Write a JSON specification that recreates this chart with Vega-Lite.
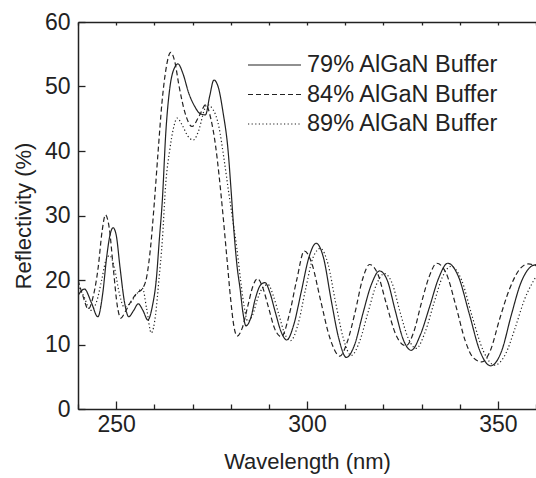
{
  "$schema": "https://vega.github.io/schema/vega-lite/v6.json",
  "width": 458,
  "height": 387,
  "autosize": {"type": "none"},
  "padding": {"left": 78, "top": 22, "right": 0, "bottom": 69},
  "background": "white",
  "config": {
    "view": {"stroke": null},
    "font": "Liberation Sans",
    "axis": {"labelFont": "Liberation Sans", "titleFont": "Liberation Sans", "labelColor": "#222", "titleColor": "#222", "domainColor": "#222", "tickColor": "#222", "domainWidth": 1.5, "tickWidth": 1.3, "grid": false, "titleFontWeight": "normal", "labelFontSize": 23, "titleFontSize": 22}
  },
  "datasets": {
    "curves": [
      {"s": "79% AlGaN Buffer", "x": 240, "y": 17.6},
      {"s": "79% AlGaN Buffer", "x": 241.7, "y": 18.6},
      {"s": "79% AlGaN Buffer", "x": 243.5, "y": 16.5},
      {"s": "79% AlGaN Buffer", "x": 245.2, "y": 14.3},
      {"s": "79% AlGaN Buffer", "x": 246.5, "y": 18},
      {"s": "79% AlGaN Buffer", "x": 247.5, "y": 23.5},
      {"s": "79% AlGaN Buffer", "x": 248.4, "y": 27},
      {"s": "79% AlGaN Buffer", "x": 249.2, "y": 28.1},
      {"s": "79% AlGaN Buffer", "x": 250, "y": 27},
      {"s": "79% AlGaN Buffer", "x": 251, "y": 22},
      {"s": "79% AlGaN Buffer", "x": 252.2, "y": 16.5},
      {"s": "79% AlGaN Buffer", "x": 253.3, "y": 14.3},
      {"s": "79% AlGaN Buffer", "x": 254.5, "y": 15.2},
      {"s": "79% AlGaN Buffer", "x": 255.8, "y": 16.3},
      {"s": "79% AlGaN Buffer", "x": 257, "y": 15.3},
      {"s": "79% AlGaN Buffer", "x": 258.3, "y": 13.8},
      {"s": "79% AlGaN Buffer", "x": 259.5, "y": 16},
      {"s": "79% AlGaN Buffer", "x": 260.5, "y": 20},
      {"s": "79% AlGaN Buffer", "x": 261.3, "y": 26.2},
      {"s": "79% AlGaN Buffer", "x": 262.1, "y": 32.4},
      {"s": "79% AlGaN Buffer", "x": 263, "y": 42.8},
      {"s": "79% AlGaN Buffer", "x": 264, "y": 49.5},
      {"s": "79% AlGaN Buffer", "x": 265, "y": 52.5},
      {"s": "79% AlGaN Buffer", "x": 266.2, "y": 53.5},
      {"s": "79% AlGaN Buffer", "x": 267.5, "y": 52},
      {"s": "79% AlGaN Buffer", "x": 269, "y": 49},
      {"s": "79% AlGaN Buffer", "x": 270.5, "y": 47},
      {"s": "79% AlGaN Buffer", "x": 272, "y": 45.8},
      {"s": "79% AlGaN Buffer", "x": 273.4, "y": 45.6},
      {"s": "79% AlGaN Buffer", "x": 274.5, "y": 48.5},
      {"s": "79% AlGaN Buffer", "x": 275.6, "y": 51},
      {"s": "79% AlGaN Buffer", "x": 276.7, "y": 50},
      {"s": "79% AlGaN Buffer", "x": 278, "y": 46},
      {"s": "79% AlGaN Buffer", "x": 279.3, "y": 40.2},
      {"s": "79% AlGaN Buffer", "x": 280.1, "y": 34},
      {"s": "79% AlGaN Buffer", "x": 280.8, "y": 28},
      {"s": "79% AlGaN Buffer", "x": 281.7, "y": 22},
      {"s": "79% AlGaN Buffer", "x": 282.5, "y": 18.5},
      {"s": "79% AlGaN Buffer", "x": 283.2, "y": 15},
      {"s": "79% AlGaN Buffer", "x": 284, "y": 12.9},
      {"s": "79% AlGaN Buffer", "x": 285.2, "y": 14},
      {"s": "79% AlGaN Buffer", "x": 286.5, "y": 17.2},
      {"s": "79% AlGaN Buffer", "x": 287.8, "y": 19.2},
      {"s": "79% AlGaN Buffer", "x": 289, "y": 19.6},
      {"s": "79% AlGaN Buffer", "x": 290.3, "y": 18},
      {"s": "79% AlGaN Buffer", "x": 291.7, "y": 15},
      {"s": "79% AlGaN Buffer", "x": 293.2, "y": 12},
      {"s": "79% AlGaN Buffer", "x": 294.7, "y": 10.7},
      {"s": "79% AlGaN Buffer", "x": 296.5, "y": 13},
      {"s": "79% AlGaN Buffer", "x": 298.5, "y": 18.2},
      {"s": "79% AlGaN Buffer", "x": 300.5, "y": 23.5},
      {"s": "79% AlGaN Buffer", "x": 302.4, "y": 25.7},
      {"s": "79% AlGaN Buffer", "x": 304.3, "y": 23.5},
      {"s": "79% AlGaN Buffer", "x": 306.3, "y": 17},
      {"s": "79% AlGaN Buffer", "x": 308.3, "y": 11},
      {"s": "79% AlGaN Buffer", "x": 310.3, "y": 8},
      {"s": "79% AlGaN Buffer", "x": 312.5, "y": 10},
      {"s": "79% AlGaN Buffer", "x": 314.6, "y": 14.7},
      {"s": "79% AlGaN Buffer", "x": 316.8, "y": 19.2},
      {"s": "79% AlGaN Buffer", "x": 319, "y": 21.4},
      {"s": "79% AlGaN Buffer", "x": 321, "y": 20},
      {"s": "79% AlGaN Buffer", "x": 323.1, "y": 15.3},
      {"s": "79% AlGaN Buffer", "x": 325.2, "y": 10.8},
      {"s": "79% AlGaN Buffer", "x": 327.3, "y": 9.1},
      {"s": "79% AlGaN Buffer", "x": 329.7, "y": 11.5},
      {"s": "79% AlGaN Buffer", "x": 332.1, "y": 15.8},
      {"s": "79% AlGaN Buffer", "x": 334.5, "y": 20.3},
      {"s": "79% AlGaN Buffer", "x": 336.9, "y": 22.6},
      {"s": "79% AlGaN Buffer", "x": 339.7, "y": 20.5},
      {"s": "79% AlGaN Buffer", "x": 342.5, "y": 14.8},
      {"s": "79% AlGaN Buffer", "x": 345.3, "y": 9},
      {"s": "79% AlGaN Buffer", "x": 348.1, "y": 6.7},
      {"s": "79% AlGaN Buffer", "x": 351, "y": 9},
      {"s": "79% AlGaN Buffer", "x": 353.5, "y": 14.5},
      {"s": "79% AlGaN Buffer", "x": 356, "y": 19.5},
      {"s": "79% AlGaN Buffer", "x": 358.5, "y": 22},
      {"s": "79% AlGaN Buffer", "x": 360, "y": 22.4},

      {"s": "84% AlGaN Buffer", "x": 240, "y": 20},
      {"s": "84% AlGaN Buffer", "x": 241.3, "y": 17.5},
      {"s": "84% AlGaN Buffer", "x": 242.7, "y": 15.5},
      {"s": "84% AlGaN Buffer", "x": 244, "y": 17.5},
      {"s": "84% AlGaN Buffer", "x": 245.3, "y": 22},
      {"s": "84% AlGaN Buffer", "x": 246.3, "y": 27.5},
      {"s": "84% AlGaN Buffer", "x": 247.2, "y": 30.1},
      {"s": "84% AlGaN Buffer", "x": 248.2, "y": 28},
      {"s": "84% AlGaN Buffer", "x": 249.3, "y": 21.5},
      {"s": "84% AlGaN Buffer", "x": 250.3, "y": 16},
      {"s": "84% AlGaN Buffer", "x": 251.2, "y": 14.1},
      {"s": "84% AlGaN Buffer", "x": 252.5, "y": 15.2},
      {"s": "84% AlGaN Buffer", "x": 254, "y": 16.8},
      {"s": "84% AlGaN Buffer", "x": 255.5, "y": 18},
      {"s": "84% AlGaN Buffer", "x": 256.8, "y": 18.6},
      {"s": "84% AlGaN Buffer", "x": 258, "y": 20.5},
      {"s": "84% AlGaN Buffer", "x": 259, "y": 25},
      {"s": "84% AlGaN Buffer", "x": 260, "y": 32},
      {"s": "84% AlGaN Buffer", "x": 261, "y": 40},
      {"s": "84% AlGaN Buffer", "x": 262, "y": 47.5},
      {"s": "84% AlGaN Buffer", "x": 263, "y": 52.5},
      {"s": "84% AlGaN Buffer", "x": 264.3, "y": 55.3},
      {"s": "84% AlGaN Buffer", "x": 265.3, "y": 54},
      {"s": "84% AlGaN Buffer", "x": 266.5, "y": 50},
      {"s": "84% AlGaN Buffer", "x": 268, "y": 46},
      {"s": "84% AlGaN Buffer", "x": 269.9, "y": 43.8},
      {"s": "84% AlGaN Buffer", "x": 271.8, "y": 45.5},
      {"s": "84% AlGaN Buffer", "x": 273.5, "y": 47.2},
      {"s": "84% AlGaN Buffer", "x": 274.8, "y": 45},
      {"s": "84% AlGaN Buffer", "x": 276, "y": 41},
      {"s": "84% AlGaN Buffer", "x": 277, "y": 36},
      {"s": "84% AlGaN Buffer", "x": 278, "y": 30},
      {"s": "84% AlGaN Buffer", "x": 279, "y": 23.5},
      {"s": "84% AlGaN Buffer", "x": 280, "y": 17},
      {"s": "84% AlGaN Buffer", "x": 280.8, "y": 13},
      {"s": "84% AlGaN Buffer", "x": 281.7, "y": 11.3},
      {"s": "84% AlGaN Buffer", "x": 283, "y": 12.5},
      {"s": "84% AlGaN Buffer", "x": 284.5, "y": 16},
      {"s": "84% AlGaN Buffer", "x": 285.8, "y": 19},
      {"s": "84% AlGaN Buffer", "x": 287, "y": 20.2},
      {"s": "84% AlGaN Buffer", "x": 288.3, "y": 19},
      {"s": "84% AlGaN Buffer", "x": 289.8, "y": 16},
      {"s": "84% AlGaN Buffer", "x": 291.5, "y": 12.5},
      {"s": "84% AlGaN Buffer", "x": 293.3, "y": 11.2},
      {"s": "84% AlGaN Buffer", "x": 295.3, "y": 14.5},
      {"s": "84% AlGaN Buffer", "x": 297.3, "y": 20},
      {"s": "84% AlGaN Buffer", "x": 299.3, "y": 24.5},
      {"s": "84% AlGaN Buffer", "x": 301.3, "y": 22.5},
      {"s": "84% AlGaN Buffer", "x": 303.5, "y": 17},
      {"s": "84% AlGaN Buffer", "x": 306, "y": 11},
      {"s": "84% AlGaN Buffer", "x": 308.6, "y": 8.2},
      {"s": "84% AlGaN Buffer", "x": 310.6, "y": 10.5},
      {"s": "84% AlGaN Buffer", "x": 312.6, "y": 15},
      {"s": "84% AlGaN Buffer", "x": 314.5, "y": 20},
      {"s": "84% AlGaN Buffer", "x": 316.4, "y": 22.4},
      {"s": "84% AlGaN Buffer", "x": 318.5, "y": 21},
      {"s": "84% AlGaN Buffer", "x": 320.7, "y": 16.5},
      {"s": "84% AlGaN Buffer", "x": 323.3, "y": 11.5},
      {"s": "84% AlGaN Buffer", "x": 325.9, "y": 9.8},
      {"s": "84% AlGaN Buffer", "x": 328, "y": 12},
      {"s": "84% AlGaN Buffer", "x": 330, "y": 16.5},
      {"s": "84% AlGaN Buffer", "x": 332, "y": 20.5},
      {"s": "84% AlGaN Buffer", "x": 334, "y": 22.6},
      {"s": "84% AlGaN Buffer", "x": 336.5, "y": 21},
      {"s": "84% AlGaN Buffer", "x": 339, "y": 16},
      {"s": "84% AlGaN Buffer", "x": 341.5, "y": 10.5},
      {"s": "84% AlGaN Buffer", "x": 343.5, "y": 8},
      {"s": "84% AlGaN Buffer", "x": 345.8, "y": 7.3},
      {"s": "84% AlGaN Buffer", "x": 348, "y": 9},
      {"s": "84% AlGaN Buffer", "x": 350.5, "y": 14},
      {"s": "84% AlGaN Buffer", "x": 353, "y": 18.5},
      {"s": "84% AlGaN Buffer", "x": 355.5, "y": 21.5},
      {"s": "84% AlGaN Buffer", "x": 358, "y": 22.5},
      {"s": "84% AlGaN Buffer", "x": 360, "y": 22.2},

      {"s": "89% AlGaN Buffer", "x": 240, "y": 19.3},
      {"s": "89% AlGaN Buffer", "x": 241.5, "y": 17.5},
      {"s": "89% AlGaN Buffer", "x": 243.3, "y": 15.3},
      {"s": "89% AlGaN Buffer", "x": 244.8, "y": 16.5},
      {"s": "89% AlGaN Buffer", "x": 246.2, "y": 20},
      {"s": "89% AlGaN Buffer", "x": 247.3, "y": 23},
      {"s": "89% AlGaN Buffer", "x": 248.3, "y": 23.8},
      {"s": "89% AlGaN Buffer", "x": 249.5, "y": 22},
      {"s": "89% AlGaN Buffer", "x": 250.8, "y": 18},
      {"s": "89% AlGaN Buffer", "x": 252.1, "y": 15.8},
      {"s": "89% AlGaN Buffer", "x": 253.5, "y": 16.3},
      {"s": "89% AlGaN Buffer", "x": 255.3, "y": 17.8},
      {"s": "89% AlGaN Buffer", "x": 256.9, "y": 18.7},
      {"s": "89% AlGaN Buffer", "x": 258, "y": 15.5},
      {"s": "89% AlGaN Buffer", "x": 259.2, "y": 11.8},
      {"s": "89% AlGaN Buffer", "x": 260.3, "y": 14.5},
      {"s": "89% AlGaN Buffer", "x": 261.2, "y": 20},
      {"s": "89% AlGaN Buffer", "x": 262.1, "y": 26.2},
      {"s": "89% AlGaN Buffer", "x": 263, "y": 35},
      {"s": "89% AlGaN Buffer", "x": 264, "y": 40},
      {"s": "89% AlGaN Buffer", "x": 265, "y": 43.5},
      {"s": "89% AlGaN Buffer", "x": 266, "y": 45.1},
      {"s": "89% AlGaN Buffer", "x": 267.3, "y": 44},
      {"s": "89% AlGaN Buffer", "x": 268.8, "y": 42.3},
      {"s": "89% AlGaN Buffer", "x": 270.2, "y": 41.7},
      {"s": "89% AlGaN Buffer", "x": 271.7, "y": 43.3},
      {"s": "89% AlGaN Buffer", "x": 273, "y": 46.2},
      {"s": "89% AlGaN Buffer", "x": 273.8, "y": 47.2},
      {"s": "89% AlGaN Buffer", "x": 275.3, "y": 46.5},
      {"s": "89% AlGaN Buffer", "x": 276.9, "y": 43.8},
      {"s": "89% AlGaN Buffer", "x": 278.2, "y": 39},
      {"s": "89% AlGaN Buffer", "x": 279.5, "y": 33.5},
      {"s": "89% AlGaN Buffer", "x": 280.5, "y": 29.5},
      {"s": "89% AlGaN Buffer", "x": 281.6, "y": 25},
      {"s": "89% AlGaN Buffer", "x": 282.6, "y": 20},
      {"s": "89% AlGaN Buffer", "x": 283.5, "y": 16},
      {"s": "89% AlGaN Buffer", "x": 284.5, "y": 13.6},
      {"s": "89% AlGaN Buffer", "x": 285.7, "y": 14.5},
      {"s": "89% AlGaN Buffer", "x": 287, "y": 17},
      {"s": "89% AlGaN Buffer", "x": 288.5, "y": 18.9},
      {"s": "89% AlGaN Buffer", "x": 289.8, "y": 19.3},
      {"s": "89% AlGaN Buffer", "x": 291.2, "y": 17.5},
      {"s": "89% AlGaN Buffer", "x": 292.7, "y": 14.5},
      {"s": "89% AlGaN Buffer", "x": 294.2, "y": 11.6},
      {"s": "89% AlGaN Buffer", "x": 295.7, "y": 10.6},
      {"s": "89% AlGaN Buffer", "x": 297.6, "y": 13},
      {"s": "89% AlGaN Buffer", "x": 299.6, "y": 18.5},
      {"s": "89% AlGaN Buffer", "x": 301.6, "y": 23.5},
      {"s": "89% AlGaN Buffer", "x": 303.5, "y": 24.9},
      {"s": "89% AlGaN Buffer", "x": 305.5, "y": 22.5},
      {"s": "89% AlGaN Buffer", "x": 307.5, "y": 16.5},
      {"s": "89% AlGaN Buffer", "x": 309.5, "y": 11},
      {"s": "89% AlGaN Buffer", "x": 311.6, "y": 8.3},
      {"s": "89% AlGaN Buffer", "x": 313.8, "y": 10.5},
      {"s": "89% AlGaN Buffer", "x": 316, "y": 15},
      {"s": "89% AlGaN Buffer", "x": 318.2, "y": 19.3},
      {"s": "89% AlGaN Buffer", "x": 320.3, "y": 21},
      {"s": "89% AlGaN Buffer", "x": 322.3, "y": 19.5},
      {"s": "89% AlGaN Buffer", "x": 324.4, "y": 15},
      {"s": "89% AlGaN Buffer", "x": 326.5, "y": 11},
      {"s": "89% AlGaN Buffer", "x": 328.6, "y": 9.4},
      {"s": "89% AlGaN Buffer", "x": 331, "y": 12},
      {"s": "89% AlGaN Buffer", "x": 333.3, "y": 16.5},
      {"s": "89% AlGaN Buffer", "x": 335.5, "y": 20.5},
      {"s": "89% AlGaN Buffer", "x": 337.7, "y": 22.1},
      {"s": "89% AlGaN Buffer", "x": 340.5, "y": 20},
      {"s": "89% AlGaN Buffer", "x": 343.2, "y": 14.5},
      {"s": "89% AlGaN Buffer", "x": 346.2, "y": 9},
      {"s": "89% AlGaN Buffer", "x": 349.2, "y": 6.8},
      {"s": "89% AlGaN Buffer", "x": 352, "y": 8.5},
      {"s": "89% AlGaN Buffer", "x": 354.5, "y": 12.5},
      {"s": "89% AlGaN Buffer", "x": 357, "y": 17},
      {"s": "89% AlGaN Buffer", "x": 359, "y": 19.5},
      {"s": "89% AlGaN Buffer", "x": 360, "y": 20.5}
    ]
  },
  "data": {"name": "curves"},
  "resolve": {"axis": {"x": "independent"}},
  "layer": [
    {
      "mark": {"type": "line", "interpolate": "monotone", "color": "#222", "strokeWidth": 1.2, "clip": true},
      "encoding": {
        "x": {"field": "x", "type": "quantitative", "scale": {"domain": [240, 360], "nice": false, "zero": false},
          "axis": {"orient": "bottom", "title": "Wavelength (nm)", "values": [240, 250, 260, 270, 280, 290, 300, 310, 320, 330, 340, 350, 360],
            "labelExpr": "datum.value % 50 === 0 ? datum.label : ''",
            "tickSize": {"condition": {"test": "datum.value % 50 === 0", "value": -8}, "value": -5},
            "labelPadding": 12, "titlePadding": 15, "domain": true, "labelFlush": false}},
        "y": {"field": "y", "type": "quantitative", "scale": {"domain": [0, 60], "nice": false, "zero": true},
          "axis": {"orient": "left", "title": "Reflectivity (%)", "values": [0, 5, 10, 15, 20, 25, 30, 35, 40, 45, 50, 55, 60],
            "labelExpr": "datum.value % 10 === 0 ? datum.label : ''",
            "tickSize": {"condition": {"test": "datum.value % 10 === 0", "value": -7}, "value": -5},
            "labelPadding": 15, "titlePadding": 9, "domain": true, "labelFlush": false}},
        "strokeDash": {"field": "s", "type": "nominal",
          "scale": {"domain": ["79% AlGaN Buffer", "84% AlGaN Buffer", "89% AlGaN Buffer"], "range": [[1, 0], [5, 3], [1.2, 2.4]]},
          "legend": {"title": null, "orient": "none", "legendX": 169, "legendY": 32, "symbolType": "stroke", "symbolSize": 2809, "symbolStrokeWidth": 1.2, "symbolStrokeColor": "#222", "labelFont": "Liberation Sans", "labelFontSize": 23.5, "labelColor": "#222", "labelOffset": 5, "labelLimit": 400, "clipHeight": 22, "rowPadding": 5.5}}
      }
    },
    {
      "mark": {"type": "line", "opacity": 0},
      "encoding": {
        "x": {"field": "x", "type": "quantitative", "scale": {"domain": [240, 360], "nice": false, "zero": false},
          "axis": {"orient": "top", "title": null, "labels": false, "values": [240, 250, 260, 270, 280, 290, 300, 310, 320, 330, 340, 350, 360], "tickSize": -3, "domain": true}},
        "y": {"field": "y", "type": "quantitative"}
      }
    }
  ]
}
